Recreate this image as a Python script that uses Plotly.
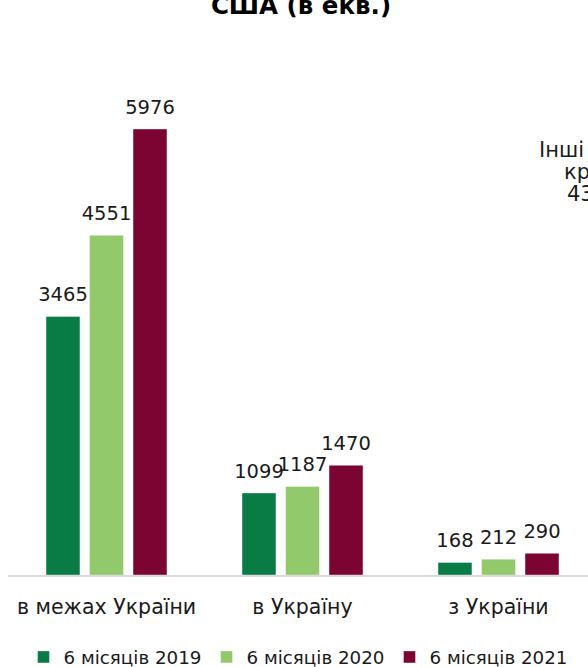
import plotly.graph_objects as go

# ---- data ----
categories = ["в межах України", "в Україну", "з України"]
series_names = ["6 місяців 2019", "6 місяців 2020", "6 місяців 2021"]
values_2019 = [3465, 1099, 168]
values_2020 = [4551, 1187, 212]
values_2021 = [5976, 1470, 290]
series_values = [values_2019, values_2020, values_2021]
colors = ["#097B45", "#92C96A", "#7C0432"]

title_text = "<b>США (в екв.)</b>"
side_lines = ["Інші", "країни", "43%"]

FONT = "DejaVu Sans, Verdana, sans-serif"
W, H = 588, 667
ML, MR, MT, MB = 8, 0, 60, 92
PW = W - ML - MR
PH = H - MT - MB

fig = go.Figure()
for name, vals, col in zip(series_names, series_values, colors):
    fig.add_trace(go.Bar(
        x=categories, y=vals, name=name,
        marker=dict(color=col, line=dict(color="rgba(255,255,255,0.5)", width=0.8)),
        hoverinfo="x+y+name",
    ))
# value labels aligned with grouped bars
for name, vals in zip(series_names, series_values):
    fig.add_trace(go.Scatter(
        x=categories, y=vals, mode="markers+text", text=[str(v) for v in vals],
        textposition="top center",
        textfont=dict(family=FONT, size=19.5, color="#1a1a1a"),
        marker=dict(size=15, opacity=0), showlegend=False, hoverinfo="skip",
        cliponaxis=False,
    ))

scale = 196.0
r0 = -0.5 - 0.5 / scale
r1 = r0 + PW / scale

fig.update_layout(
    width=W, height=H,
    margin=dict(l=ML, r=MR, t=MT, b=MB, autoexpand=False),
    paper_bgcolor="white", plot_bgcolor="white",
    barmode="group", bargap=0.334, bargroupgap=0.22,
    scattermode="group", scattergap=0.334,
    font=dict(family=FONT, color="#1a1a1a"),
    title=dict(text=title_text, x=301 / W, xanchor="center", xref="container",
               y=1 - 5 / H, yref="container", yanchor="middle",
               font=dict(family=FONT, size=24.5, color="#000000")),
    xaxis=dict(range=[r0, r1], showline=True, linecolor="#D9D9D9", linewidth=2,
               ticks="", showgrid=False, zeroline=False, ticklabelstandoff=12,
               tickfont=dict(family=FONT, size=20.5, color="#1a1a1a")),
    yaxis=dict(range=[0, 6900], visible=False, showgrid=False, zeroline=False),
    legend=dict(orientation="h", x=(298 - ML) / PW, xanchor="center",
                yref="container", y=(H - 657) / H, yanchor="middle",
                font=dict(family=FONT, size=18.3, color="#1a1a1a"),
                traceorder="normal"),
    showlegend=True,
)

side_pos = [(537, 150), (562, 172), (565, 194)]
for txt, (px, py) in zip(side_lines, side_pos):
    fig.add_annotation(text=txt, xref="paper", yref="paper",
                       x=(px - ML) / PW, y=(H - MB - py) / PH,
                       xanchor="left", yanchor="middle", showarrow=False,
                       font=dict(family=FONT, size=21, color="#1a1a1a"))

fig.write_html("out.html", config={"displayModeBar": False},
               post_script="document.body.style.margin='0';document.body.style.overflow='hidden';")
